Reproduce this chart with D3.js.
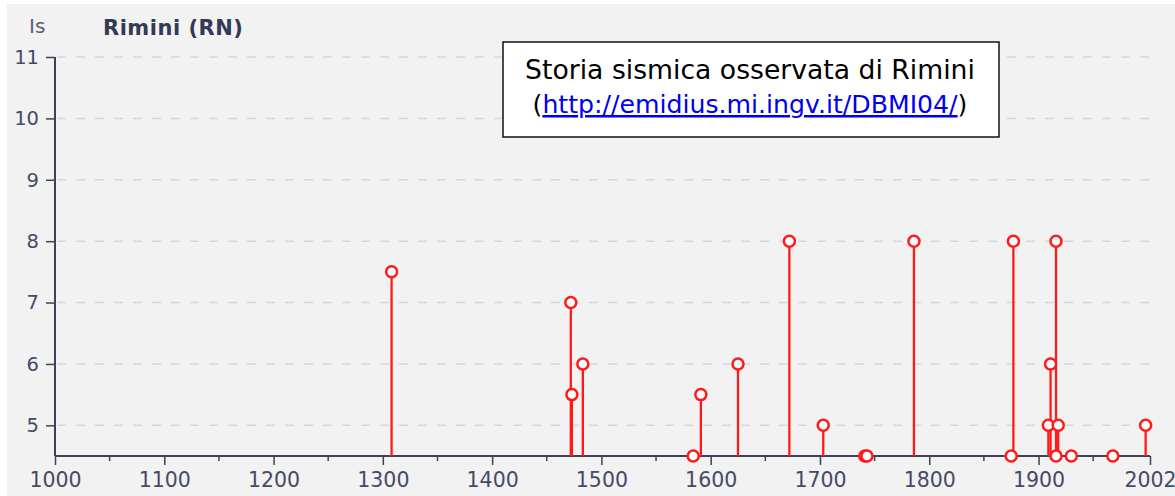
<!DOCTYPE html>
<html><head><meta charset="utf-8">
<script src="https://cdn.jsdelivr.net/npm/d3@7"></script>
<style>
html,body{margin:0;padding:0;background:#fff;}
svg{display:block;}
</style></head>
<body>
<svg id="c" width="1175" height="496"></svg>
<script>
// ---- data ----
const years = [1308, 1472, 1473, 1483, 1584, 1591, 1625, 1672, 1703, 1741, 1743, 1786, 1875, 1877, 1909, 1911, 1916, 1916, 1918, 1930, 1968, 1998];
const intensities = [7.5, 7, 5.5, 6, 4.5, 5.5, 6, 8, 5, 4.5, 4.5, 8, 4.5, 8, 5, 6, 8, 4.5, 5, 4.5, 4.5, 5];
const xTickValues = [1000, 1100, 1200, 1300, 1400, 1500, 1600, 1700, 1800, 1900, 2002];
const xMinorTicks = [1050, 1150, 1250, 1350, 1450, 1550, 1650, 1750, 1850, 1950];
const yTickValues = [5, 6, 7, 8, 9, 10, 11];
const chartTitle = "Rimini (RN)";
const yLabel = "Is";
const boxTitle = "Storia sismica osservata di Rimini";
const linkText = "http://emidius.mi.ingv.it/DBMI04/";

const svg = d3.select("#c");
const font = "'DejaVu Sans', Verdana, sans-serif";
const axisColor = "#3d4258";
const red = "#ff1a1a";

svg.append("rect").attr("x", 7).attr("y", 4).attr("width", 1168).attr("height", 492).attr("fill", "#f2f2f2");

const x = d3.scaleLinear().domain([1000, 2002]).range([55, 1150]);
const y = d3.scaleLinear().domain([4.5, 11]).range([456, 57]);

// grid
svg.append("g").selectAll("line").data(yTickValues).join("line")
  .attr("x1", 57).attr("x2", 1152)
  .attr("y1", d => y(d)).attr("y2", d => y(d))
  .attr("stroke", "#d6d7de").attr("stroke-width", 1.5).attr("stroke-dasharray", "9,10");

// y axis
const yAxis = d3.axisLeft(y).tickValues(yTickValues).tickSize(9).tickFormat(d3.format("d"));
const gy = svg.append("g").attr("transform", "translate(55,0)").call(yAxis);
gy.select(".domain").attr("d", `M0,${y(11)}V456`).attr("stroke", axisColor).attr("stroke-width", 2);
gy.selectAll(".tick line").attr("stroke", axisColor).attr("stroke-width", 1.5);
gy.selectAll(".tick text").attr("font-family", font).attr("font-size", 19.5).attr("fill", "#454a66").attr("x", -16);

// x axis
const xAxis = d3.axisBottom(x).tickValues(xTickValues).tickSize(9).tickFormat(d3.format("d"));
const gx = svg.append("g").attr("transform", "translate(0,456)").call(xAxis);
gx.select(".domain").attr("d", `M55,0H${x(2002)}`).attr("stroke", axisColor).attr("stroke-width", 2);
gx.selectAll(".tick line").attr("stroke", axisColor).attr("stroke-width", 1.5);
gx.selectAll(".tick text").attr("font-family", font).attr("font-size", 20.5).attr("fill", "#454a66").attr("y", 16);
svg.append("g").selectAll("line").data(xMinorTicks).join("line")
  .attr("x1", d => x(d)).attr("x2", d => x(d)).attr("y1", 456).attr("y2", 461)
  .attr("stroke", axisColor).attr("stroke-width", 1.5);

// stems
const events = years.map((yr, i) => ({year: yr, is: intensities[i]}));
svg.append("g").selectAll("line").data(events).join("line")
  .attr("x1", d => x(d.year)).attr("x2", d => x(d.year))
  .attr("y1", d => y(d.is)).attr("y2", 456)
  .attr("stroke", red).attr("stroke-width", 2.3);
svg.append("g").selectAll("circle").data(events).join("circle")
  .attr("cx", d => x(d.year)).attr("cy", d => y(d.is)).attr("r", 5.5)
  .attr("fill", "#fff").attr("stroke", red).attr("stroke-width", 2.5);

// titles
svg.append("text").attr("x", 29).attr("y", 33).attr("font-family", font).attr("font-size", 20)
  .attr("fill", "#5a5f78").text(yLabel);
svg.append("text").attr("x", 103).attr("y", 35).attr("font-family", font).attr("font-size", 21)
  .attr("font-weight", "bold").attr("fill", "#333a55").attr("letter-spacing", 0.5).text(chartTitle);

// box
svg.append("rect").attr("x", 503).attr("y", 42).attr("width", 496).attr("height", 95)
  .attr("fill", "#fff").attr("stroke", "#111").attr("stroke-width", 1.5);
const t1 = svg.append("text").attr("x", 750).attr("y", 79).attr("text-anchor", "middle")
  .attr("font-family", font).attr("font-size", 26).attr("fill", "#000").text(boxTitle);
const t2 = svg.append("text").attr("x", 750).attr("y", 113).attr("text-anchor", "middle")
  .attr("font-family", font).attr("font-size", 22).attr("fill", "#000");
t2.append("tspan").text("(");
t2.append("tspan").attr("fill", "#0000ee").attr("text-decoration", "underline").text(linkText);
t2.append("tspan").text(")");
// fit widths to reference
function fit(t, w) {
  const l = t.node().getComputedTextLength();
  const fs = +t.attr("font-size");
  t.attr("font-size", fs * w / l);
}
fit(t1, 450);
fit(t2, 435);
</script>
</body></html>
